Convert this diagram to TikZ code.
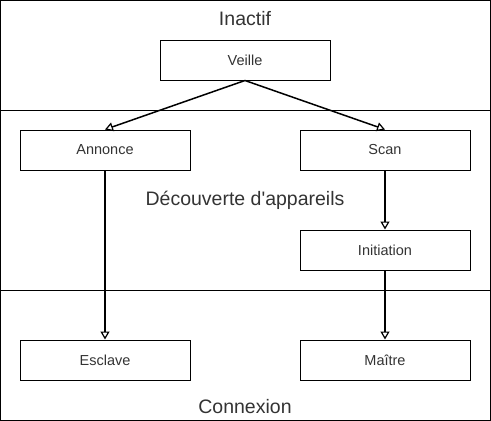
\documentclass[tikz,border=0pt]{standalone}
\usepackage{fontspec}
\setmainfont{Liberation Sans}
\usetikzlibrary{arrows.meta}
\begin{document}
\begin{tikzpicture}[x=1pt,y=-1pt,
  statebox/.style={draw=black, line width=1pt, minimum width=170pt, minimum height=40pt, inner sep=0pt, font=\fontsize{14.5}{17}\selectfont, text=black!80},
  zone/.style={draw=black, line width=1pt},
  ztitle/.style={font=\fontsize{19.5}{23}\selectfont, text=black!80},
  flow/.style={line width=1.5pt, -{Triangle[open, length=8pt, width=9pt, line width=1.2pt]}}]
\useasboundingbox (0,0) rectangle (491,421);
\draw[zone] (0.5,0.5) rectangle (490.5,110);
\draw[zone] (0.5,110) rectangle (490.5,290);
\draw[zone] (0.5,290) rectangle (490.5,420.5);
\node[ztitle] (tinactif) at (245,19) {Inactif};
\node[ztitle] (tdecouv) at (245,200) {Découverte d\textquotesingle appareils};
\node[ztitle] (tconn) at (245,407) {Connexion};
\node[statebox] (veille) at (245,60) {Veille};
\node[statebox] (annonce) at (105,150) {Annonce};
\node[statebox] (scan) at (385,150) {Scan};
\node[statebox] (init) at (385,250) {Initiation};
\node[statebox] (esclave) at (105,360) {Esclave};
\node[statebox] (maitre) at (385,360) {Maître};
\draw[flow] (veille.south) -- (annonce.north);
\draw[flow] (veille.south) -- (scan.north);
\draw[flow] (annonce.south) -- (esclave.north);
\draw[flow] (scan.south) -- (init.north);
\draw[flow] (init.south) -- (maitre.north);
\end{tikzpicture}
\end{document}
